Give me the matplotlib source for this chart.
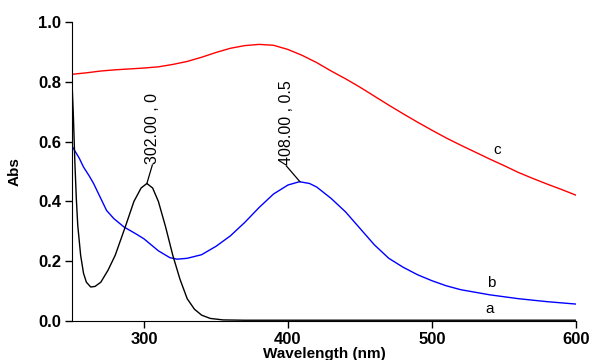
import matplotlib.pyplot as plt

plt.rcParams['font.family'] = ['Liberation Sans', 'DejaVu Sans']

# --- data ---
wl_a = [250, 251, 252, 253, 254, 256, 258, 260, 263, 266, 270, 275, 280, 287,
        293, 298, 302, 306, 310, 315, 320, 325, 330, 335, 340, 346, 355, 370,
        400, 450, 500, 550, 600]
abs_a = [0.80, 0.68, 0.53, 0.41, 0.32, 0.22, 0.16, 0.13, 0.114, 0.116, 0.13,
         0.17, 0.22, 0.315, 0.40, 0.445, 0.46, 0.445, 0.40, 0.315, 0.22, 0.14,
         0.075, 0.04, 0.02, 0.009, 0.004, 0.003, 0.003, 0.003, 0.003, 0.003,
         0.003]

wl_b = [250, 255, 258, 262, 265, 270, 274, 279, 286, 295, 300, 310, 318, 323,
        330, 340, 350, 360, 370, 380, 390, 400, 408, 415, 420, 430, 440, 450,
        460, 470, 480, 490, 500, 510, 520, 540, 560, 580, 600]
abs_b = [0.585, 0.545, 0.515, 0.485, 0.46, 0.41, 0.37, 0.343, 0.315, 0.29,
         0.275, 0.235, 0.212, 0.207, 0.21, 0.222, 0.25, 0.285, 0.33, 0.38,
         0.425, 0.455, 0.466, 0.46, 0.448, 0.41, 0.365, 0.31, 0.255, 0.21,
         0.18, 0.155, 0.135, 0.118, 0.105, 0.088, 0.075, 0.065, 0.057]

wl_c = [250, 260, 270, 280, 290, 300, 310, 320, 330, 340, 350, 360, 370, 380,
        390, 400, 410, 420, 430, 440, 450, 460, 470, 480, 490, 500, 510, 520,
        530, 540, 550, 560, 570, 580, 590, 600]
abs_c = [0.825, 0.83, 0.836, 0.84, 0.843, 0.846, 0.85, 0.858, 0.868, 0.882,
         0.898, 0.912, 0.921, 0.925, 0.922, 0.908, 0.888, 0.864, 0.836, 0.81,
         0.782, 0.752, 0.722, 0.693, 0.665, 0.638, 0.612, 0.588, 0.565, 0.542,
         0.52, 0.497, 0.477, 0.458, 0.44, 0.421]

peaks = [(302.0, 0.46, '302.00 , 0', 305.8, 0.522),
         (408.3, 0.466, '408.00 , 0.5', 399.0, 0.518)]
curve_labels = [('a', 540, 0.04), ('b', 541, 0.126), ('c', 545, 0.572)]

fig = plt.figure(figsize=(5.95, 3.6), dpi=100)
ax = fig.add_axes([0.121, 0.108, 0.847, 0.831])

ax.plot(wl_c, abs_c, color='#ff0000', lw=1.0)
ax.plot(wl_b, abs_b, color='#0000ff', lw=1.0)
ax.plot(wl_a, abs_a, color='black', lw=1.0)

# peak markers with leader lines
for px, py, txt, tx, ty in peaks:
    ax.plot([px, tx], [py, ty], color='black', lw=0.9)
    ax.text(tx, ty + 0.003, txt, rotation=90, ha='center', va='bottom',
            fontsize=11.5)

for name, x, y in curve_labels:
    ax.text(x, y, name, ha='center', va='center', fontsize=11)

ax.set_xlim(250, 600)
ax.set_ylim(0, 1.0)
ax.set_xticks([300, 400, 500, 600])
ax.set_yticks([0.0, 0.2, 0.4, 0.6, 0.8, 1.0])
ax.set_yticklabels(['0.0', '0.2', '0.4', '0.6', '0.8', '1.0'])
for s in ['top', 'right']:
    ax.spines[s].set_visible(False)
ax.tick_params(direction='out', length=5, width=1, labelsize=12, pad=3)
for lab in ax.get_xticklabels() + ax.get_yticklabels():
    lab.set_fontweight('bold')

ax.set_xlabel('Wavelength (nm)', fontsize=11, fontweight='bold', labelpad=0)
ax.set_ylabel('Abs', fontsize=11, fontweight='bold', labelpad=12)

fig.savefig('out.png', dpi=100)
